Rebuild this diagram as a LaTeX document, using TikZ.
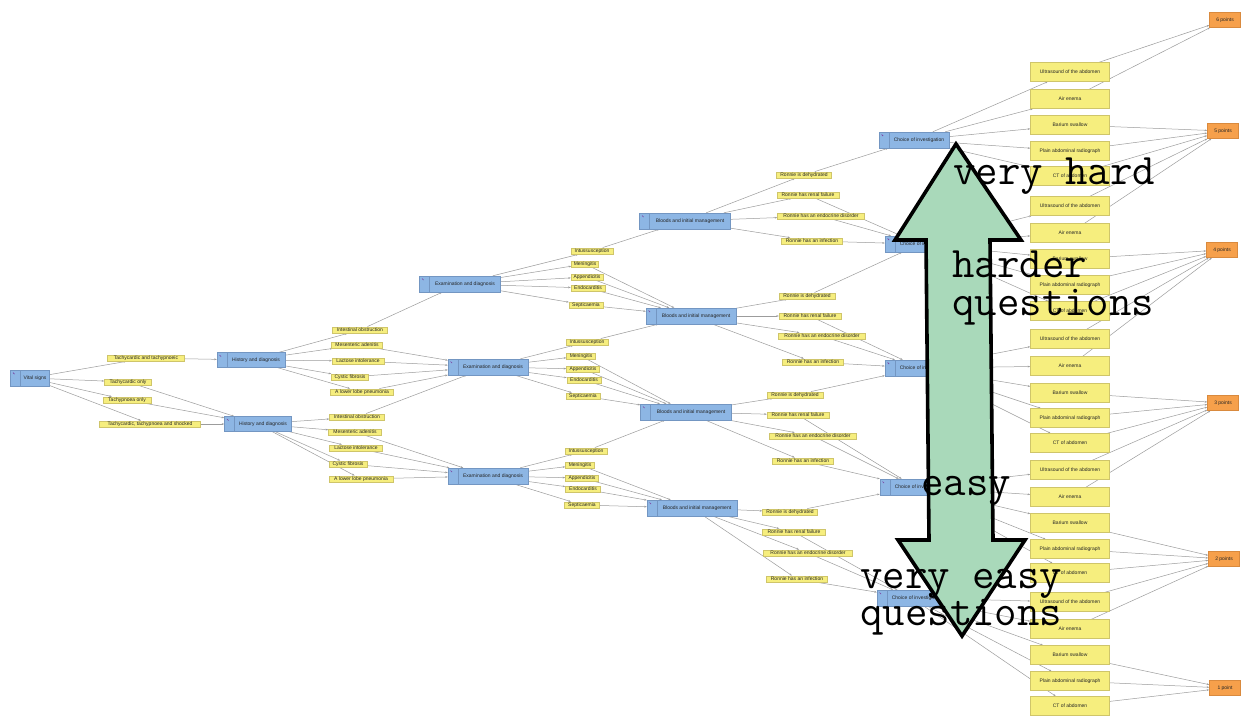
\documentclass[tikz,border=0pt]{standalone}
\usepackage{fontspec}
\setmainfont{Liberation Sans}
\usetikzlibrary{arrows.meta,backgrounds}

\definecolor{bluefill}{HTML}{8DB6E4}
\definecolor{bluedraw}{HTML}{7396C2}
\definecolor{yelfill}{HTML}{F6EE7E}
\definecolor{yeldraw}{HTML}{CFC56A}
\definecolor{orfill}{HTML}{F6A04B}
\definecolor{ordraw}{HTML}{D98A3E}
\definecolor{linkgray}{HTML}{9C9C9C}
\definecolor{iconpurple}{HTML}{7A3FA0}
\definecolor{arrowgreen}{HTML}{A9D9BA}

\tikzset{
  every node/.style={font=\fontsize{5}{6}\selectfont, text=black!85},
  box/.style={rectangle, inner sep=0pt, minimum height=6.5pt},
  yel/.style={box, draw=yeldraw, fill=yelfill, line width=0.4pt},
  inv/.style={box, draw=yeldraw, fill=yelfill, line width=0.4pt,
    minimum width=79pt, minimum height=19pt},
  pts/.style={box, draw=ordraw, fill=orfill, line width=0.4pt,
    minimum width=31pt, minimum height=15pt},
  blu/.style={box, draw=bluedraw, fill=bluefill, line width=0.4pt,
    minimum height=16pt, execute at begin node={\hspace*{10pt}},
    path picture={
      \draw[bluedraw, line width=0.4pt]
        ([xshift=10pt]path picture bounding box.north west) --
        ([xshift=10pt]path picture bounding box.south west);
      \draw[iconpurple, line width=0.7pt]
        ([shift={(2.5pt,-2.5pt)}]path picture bounding box.north west) --
        ([shift={(4pt,-4pt)}]path picture bounding box.north west);
    }},
  link/.style={draw=linkgray, line width=0.5pt,
    -{Stealth[length=2.6pt,width=1.8pt]}},
  bigtext/.style={font=\ttfamily\addfontfeatures{FakeBold=0.6}\fontsize{43.6}{40}\selectfont,
    text=black, anchor=base west, inner sep=0pt},
}

\begin{document}
\begin{tikzpicture}[x=1pt,y=-1pt]
\useasboundingbox (0,0) rectangle (1245,715);

% start and first findings
\node[blu, minimum width=39pt] (vs) at (30,378) {Vital signs};
\node[yel, minimum width=77pt] (t1) at (146,358) {Tachycardic and tachypnoeic};
\node[yel, minimum width=47pt] (t2) at (128,382) {Tachycardic only};
\node[yel, minimum width=48pt] (t3) at (127,400) {Tachypnoea only};
\node[yel, minimum width=101pt] (t4) at (150,424) {Tachycardic, tachypnoea and shocked};

\node[blu, minimum width=68pt, minimum height=15pt] (hA) at (251,360) {History and diagnosis};
\node[blu, minimum width=67pt, minimum height=15pt] (hB) at (258,424) {History and diagnosis};

% differential diagnoses after history
\node[yel, minimum width=55pt] (a1) at (360,330) {Intestinal obstruction};
\node[yel, minimum width=51pt] (a2) at (357,345) {Mesenteric adenitis};
\node[yel, minimum width=52pt] (a3) at (358,361) {Lactose intolerance};
\node[yel, minimum width=37pt] (a4) at (350,377) {Cystic fibrosis};
\node[yel, minimum width=63pt] (a5) at (362,392) {A lower lobe pneumonia};

\node[yel, minimum width=55pt] (b1) at (357,417) {Intestinal obstruction};
\node[yel, minimum width=53pt] (b2) at (355,432) {Mesenteric adenitis};
\node[yel, minimum width=53pt] (b3) at (356,448) {Lactose intolerance};
\node[yel, minimum width=38pt] (b4) at (348,464) {Cystic fibrosis};
\node[yel, minimum width=64pt] (b5) at (361,479) {A lower lobe pneumonia};

\node[blu, minimum width=81pt] (eA) at (460,284) {Examination and diagnosis};
\node[blu, minimum width=80pt] (eB) at (488,367) {Examination and diagnosis};
\node[blu, minimum width=80pt] (eC) at (488,476) {Examination and diagnosis};

% diagnoses after examination
\node[yel, minimum width=42pt] (c1) at (592,251) {Intussusception};
\node[yel, minimum width=27pt] (c2) at (585,264) {Meningitis};
\node[yel, minimum width=32pt] (c3) at (587,277) {Appendicitis};
\node[yel, minimum width=34pt] (c4) at (588,288) {Endocarditis};
\node[yel, minimum width=34pt] (c5) at (586,305) {Septicaemia};

\node[yel, minimum width=42pt] (d1) at (587,342) {Intussusception};
\node[yel, minimum width=29pt] (d2) at (581,356) {Meningitis};
\node[yel, minimum width=33pt] (d3) at (583,369) {Appendicitis};
\node[yel, minimum width=34pt] (d4) at (584,380) {Endocarditis};
\node[yel, minimum width=34pt] (d5) at (583,396) {Septicaemia};

\node[yel, minimum width=42pt] (f1) at (586,451) {Intussusception};
\node[yel, minimum width=29pt] (f2) at (580,465) {Meningitis};
\node[yel, minimum width=33pt] (f3) at (582,478) {Appendicitis};
\node[yel, minimum width=35pt] (f4) at (583,489) {Endocarditis};
\node[yel, minimum width=35pt] (f5) at (582,505) {Septicaemia};

\node[blu, minimum width=91pt] (gA) at (685,221) {Bloods and initial management};
\node[blu, minimum width=90pt] (gB) at (691,316) {Bloods and initial management};
\node[blu, minimum width=91pt] (gC) at (686,412) {Bloods and initial management};
\node[blu, minimum width=90pt] (gD) at (692,508) {Bloods and initial management};

% findings after bloods
\node[yel, minimum width=55pt] (r11) at (804,175) {Ronnie is dehydrated};
\node[yel, minimum width=62pt] (r12) at (808,195) {Ronnie has renal failure};
\node[yel, minimum width=87pt] (r13) at (821,216) {Ronnie has an endocrine disorder};
\node[yel, minimum width=61pt] (r14) at (812,241) {Ronnie has an infection};

\node[yel, minimum width=56pt] (r21) at (807,296) {Ronnie is dehydrated};
\node[yel, minimum width=62pt] (r22) at (810,316) {Ronnie has renal failure};
\node[yel, minimum width=87pt] (r23) at (822,336) {Ronnie has an endocrine disorder};
\node[yel, minimum width=61pt] (r24) at (813,362) {Ronnie has an infection};

\node[yel, minimum width=56pt] (r31) at (795,395) {Ronnie is dehydrated};
\node[yel, minimum width=62pt] (r32) at (798,415) {Ronnie has renal failure};
\node[yel, minimum width=87pt] (r33) at (813,436) {Ronnie has an endocrine disorder};
\node[yel, minimum width=61pt] (r34) at (803,461) {Ronnie has an infection};

\node[yel, minimum width=55pt] (r41) at (790,512) {Ronnie is dehydrated};
\node[yel, minimum width=63pt] (r42) at (794,532) {Ronnie has renal failure};
\node[yel, minimum width=89pt] (r43) at (808,553) {Ronnie has an endocrine disorder};
\node[yel, minimum width=61pt] (r44) at (797,579) {Ronnie has an infection};

\node[blu, minimum width=70pt] (k1) at (914,140) {Choice of investigation};
\node[blu, minimum width=70pt] (k2) at (920,244) {Choice of investigation};
\node[blu, minimum width=70pt] (k3) at (920,368) {Choice of investigation};
\node[blu, minimum width=70pt] (k4) at (915,487) {Choice of investigation};
\node[blu, minimum width=70pt] (k5) at (912,598) {Choice of investigation};

% investigations
\foreach \g/\ya/\yb/\yc/\yd/\ye in {1/72/99/125/151/176, 2/206/233/259/285/311,
    3/339/366/393/418/443, 4/470/497/523/549/573, 5/602/629/655/681/706} {
  \node[inv] (us\g) at (1070,\ya) {Ultrasound of the abdomen};
  \node[inv] (ae\g) at (1070,\yb) {Air enema};
  \node[inv] (ba\g) at (1070,\yc) {Barium swallow};
  \node[inv] (pl\g) at (1070,\yd) {Plain abdominal radiograph};
  \node[inv] (ct\g) at (1070,\ye) {CT of abdomen};
}

% scores
\node[pts] (p6) at (1225,20) {6 points};
\node[pts] (p5) at (1223,131) {5 points};
\node[pts] (p4) at (1222,250) {4 points};
\node[pts] (p3) at (1223,403) {3 points};
\node[pts] (p2) at (1224,559) {2 points};
\node[pts] (p1) at (1225,688) {1 point};

% connectors
\begin{pgfonlayer}{background}
  \fill[white] (0,0) rectangle (1245,715);
  \foreach \t in {t1,t2,t3,t4} \draw[link] (vs) -- (\t);
  \draw[link] (t1) -- (hA);
  \foreach \t in {t2,t3,t4} \draw[link] (\t) -- (hB);
  \foreach \n in {1,...,5} {
    \draw[link] (hA) -- (a\n);
    \draw[link] (hB) -- (b\n);
    \draw[link] (eA) -- (c\n);
    \draw[link] (eB) -- (d\n);
    \draw[link] (eC) -- (f\n);
  }
  \draw[link] (a1) -- (eA);
  \foreach \n in {a2,a3,a4,a5,b1} \draw[link] (\n) -- (eB);
  \foreach \n in {b2,b3,b4,b5} \draw[link] (\n) -- (eC);
  \draw[link] (c1) -- (gA);
  \foreach \n in {c2,c3,c4,c5,d1} \draw[link] (\n) -- (gB);
  \foreach \n in {d2,d3,d4,d5,f1} \draw[link] (\n) -- (gC);
  \foreach \n in {f2,f3,f4,f5} \draw[link] (\n) -- (gD);
  \foreach \n in {1,...,4} {
    \draw[link] (gA) -- (r1\n);
    \draw[link] (gB) -- (r2\n);
    \draw[link] (gC) -- (r3\n);
    \draw[link] (gD) -- (r4\n);
  }
  \draw[link] (r11) -- (k1);
  \foreach \n in {r12,r13,r14,r21} \draw[link] (\n) -- (k2);
  \foreach \n in {r22,r23,r24,r31} \draw[link] (\n) -- (k3);
  \foreach \n in {r32,r33,r34,r41} \draw[link] (\n) -- (k4);
  \foreach \n in {r42,r43,r44} \draw[link] (\n) -- (k5);
  \foreach \g [evaluate=\g as \hi using {int(7-\g)},
               evaluate=\g as \lo using {int(6-\g)}] in {1,...,5} {
    \foreach \n in {us,ae,ba,pl,ct} \draw[link] (k\g) -- (\n\g);
    \draw[link] (us\g) -- (p\hi);
    \draw[link] (ae\g) -- (p\hi);
    \draw[link] (ba\g) -- (p\lo);
    \draw[link] (pl\g) -- (p\lo);
    \draw[link] (ct\g) -- (p\lo);
  }
\end{pgfonlayer}

% difficulty scale
\draw[line width=3.6pt, line join=miter, fill=arrowgreen]
  (956,144) -- (1021,240) -- (990,240) -- (993,540) -- (1025,540) --
  (962,636) -- (898,540) -- (929,540) -- (926,240) -- (895,240) -- cycle;

\node[bigtext] (veryhard) at (953,184) {very hard};
\node[bigtext] (harder) at (952,277) {harder};
\node[bigtext] (harderq) at (952,315) {questions};
\node[bigtext] (easy) at (921,495) {easy};
\node[bigtext] (veryeasy) at (860,588) {very easy};
\node[bigtext] (veryeasyq) at (860,625) {questions};
\end{tikzpicture}
\end{document}
